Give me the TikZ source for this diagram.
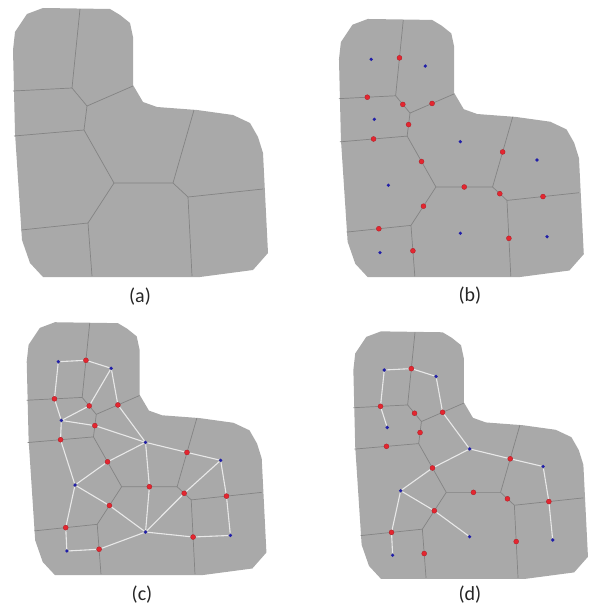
\documentclass[tikz,border=0pt]{standalone}
\usepackage{fontspec}
\setmainfont{Carlito}
\usetikzlibrary{calc}
\pgfdeclarelayer{shape}
\pgfdeclarelayer{links}
\pgfsetlayers{shape,links,main}
\definecolor{cellgray}{RGB}{169,169,169}
\definecolor{wallgray}{RGB}{132,132,132}
\definecolor{linkwhite}{RGB}{232,232,232}
\definecolor{dotred}{RGB}{228,38,48}
\definecolor{dotblue}{RGB}{32,30,168}
\tikzset{
  cellfill/.style={fill=cellgray},
  wall/.style={draw=wallgray,line width=0.7pt},
  link/.style={draw=linkwhite,line width=1.1pt},
  site/.style={circle,fill=dotblue,inner sep=0pt,minimum size=3.6pt},
  mid/.style={circle,fill=dotred,draw=dotred!75!black,line width=0.3pt,inner sep=0pt,minimum size=5pt},
  panellabel/.style={font=\fontsize{20}{24}\selectfont,text=black!85},
}
% outline and cell walls of one panel
\newcommand{\cellregion}{%
  \coordinate (v1) at (80,9);   \coordinate (v2) at (72,88);
  \coordinate (v3) at (13,91);  \coordinate (v4) at (87,106);
  \coordinate (v5) at (133,86); \coordinate (v6) at (84,130);
  \coordinate (v7) at (14,136); \coordinate (v8) at (114,183);
  \coordinate (v9) at (173,183);\coordinate (v10) at (194,110);
  \coordinate (v11) at (188,197);\coordinate (v12) at (263,189);
  \coordinate (v13) at (192,276);\coordinate (v14) at (88,223);
  \coordinate (v15) at (21,230);\coordinate (v16) at (92,276);
  \begin{pgfonlayer}{shape}
    \fill[cellfill] (15,32) -- (27,14) -- (43,8) -- (110,9) -- (120,15) -- (130,23)
      -- (133,37) -- (133,85) -- (143,102) -- (157,107) -- (197,110) -- (233,115)
      -- (250,123) -- (258,137) -- (263,153) -- (268,253) -- (253,270) -- (200,277)
      -- (43,277) -- (30,263) -- (22,240) -- (15,133) -- (13,50) -- cycle;
    \draw[wall] (v1) -- (v2);
    \draw[wall] (v3) -- (v2) -- (v4) -- (v5);
    \draw[wall] (v4) -- (v6);
    \draw[wall] (v7) -- (v6) -- (v8) -- (v9) -- (v10);
    \draw[wall] (v9) -- (v11) -- (v12);
    \draw[wall] (v11) -- (v13);
    \draw[wall] (v8) -- (v14) -- (v16);
    \draw[wall] (v15) -- (v14);
  \end{pgfonlayer}
}
% cell sites and wall midpoints
\newcommand{\celldots}{%
  \node[site] (s1) at (46.6,50) {};   \node[site] (s2) at (102.9,57) {};
  \node[site] (s3) at (49.8,112.5) {};\node[site] (s4) at (139.4,135.8) {};
  \node[site] (s5) at (219.3,154.9) {};\node[site] (s6) at (64.4,181.2) {};
  \node[site] (s7) at (139.4,231.2) {};\node[site] (s8) at (229.7,234.8) {};
  \node[site] (s9) at (55.7,251.4) {};
  \foreach \i/\a/\b in {1/v1/v2,2/v3/v2,3/v2/v4,4/v4/v5,5/v4/v6,6/v7/v6,7/v6/v8,
      8/v9/v10,9/v8/v9,10/v9/v11,11/v11/v12,12/v8/v14,13/v15/v14,14/v11/v13,15/v14/v16}
    \node[mid] (m\i) at ($(\a)!0.5!(\b)$) {};
}

\begin{document}
\begin{tikzpicture}[x=1pt,y=-1pt]
  \useasboundingbox (0,0) rectangle (593,610);

  % (a)
  \begin{scope}[name prefix=a-]
    \cellregion
  \end{scope}
  \node[panellabel] (lab-a) at (140,297) {(a)};

  % (b)
  \begin{scope}[name prefix=b-,shift={(326.5,11.3)},scale=0.96]
    \cellregion
    \celldots
  \end{scope}
  \node[panellabel] (lab-b) at (470,296) {(b)};

  % (c)
  \begin{scope}[name prefix=c-,shift={(14.5,314.7)},scale=0.94]
    \cellregion
    \celldots
    \begin{pgfonlayer}{links}
      \foreach \a/\m/\b in {s1/m1/s2,s1/m2/s3,s2/m3/s3,s2/m4/s4,s3/m5/s4,s3/m6/s6,
          s6/m7/s4,s4/m8/s5,s4/m9/s7,s7/m10/s5,s5/m11/s8,s8/m14/s7,s6/m12/s7,
          s6/m13/s9,s9/m15/s7}
        \draw[link] (\a) -- (\m) -- (\b);
    \end{pgfonlayer}
  \end{scope}
  \node[panellabel] (lab-c) at (142,595) {(c)};

  % (d)
  \begin{scope}[name prefix=d-,shift={(341.4,324)},scale=0.92]
    \cellregion
    \celldots
    \begin{pgfonlayer}{links}
      \foreach \a/\m/\b in {s1/m1/s2,s1/m2/s3,s2/m4/s4,s4/m8/s5,s5/m11/s8,
          s4/m7/s6,s6/m12/s7,s6/m13/s9}
        \draw[link] (\a) -- (\m) -- (\b);
    \end{pgfonlayer}
  \end{scope}
  \node[panellabel] (lab-d) at (470,595) {(d)};
\end{tikzpicture}
\end{document}
